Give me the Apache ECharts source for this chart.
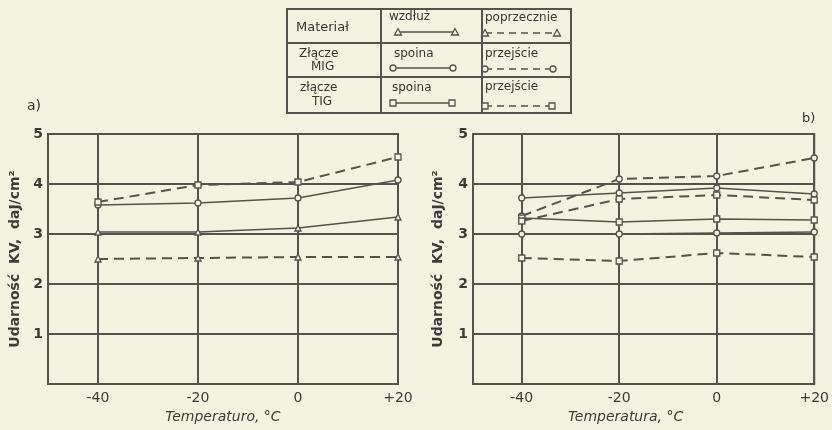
<!DOCTYPE html>
<html><head><meta charset="utf-8">
<script src="https://cdn.jsdelivr.net/npm/echarts@6/dist/echarts.min.js"></script>
<style>html,body{margin:0;padding:0;background:#f4f2e0}#c{width:832px;height:430px}</style>
</head><body><div id="c"></div><script>
// ---- data ----
const temps = [-40, -20, 0, 20];
const xTickLabels = ['-40', '-20', '0', '+20'];
const yTickLabels = ['1', '2', '3', '4', '5'];
// panel a)
const aWzdluz      = [3.04, 3.04, 3.12, 3.34];
const aPoprzecznie = [2.50, 2.52, 2.54, 2.54];
const aSpoina      = [3.58, 3.62, 3.72, 4.08];
const aPrzejscie   = [3.64, 3.98, 4.04, 4.54];
// panel b)
const bWzdluz        = [3.00, 3.00, 3.02, 3.04];
const bPoprzecznie   = [2.52, 2.46, 2.62, 2.54];
const bMigSpoina     = [3.72, 3.82, 3.92, 3.80];
const bMigPrzejscie  = [3.36, 4.10, 4.16, 4.52];
const bTigSpoina     = [3.32, 3.24, 3.30, 3.28];
const bTigPrzejscie  = [3.26, 3.70, 3.78, 3.68];

const INK = '#57524c';
const BG = '#f4f2e0';
const FONT = 'DejaVu Sans';

function ser(name, vals, idx, dashed, symbol) {
  return {
    name: name, type: 'line', xAxisIndex: idx, yAxisIndex: idx,
    data: temps.map((t, i) => [t, vals[i]]),
    symbol: symbol, symbolSize: 6, showSymbol: true,
    lineStyle: { color: INK, width: dashed ? 2 : 1.6, type: dashed ? [10, 6] : 'solid' },
    itemStyle: { color: BG, borderColor: INK, borderWidth: 1.3 },
    emphasis: { disabled: true }, animation: false, z: 5
  };
}

function xAx(idx, name, nameShift) {
  return {
    type: 'value', gridIndex: idx, min: -50, max: 20,
    axisLine: { show: true, lineStyle: { color: INK, width: 2 } },
    axisTick: { show: false, customValues: temps },
    axisLabel: { customValues: temps, formatter: v => xTickLabels[temps.indexOf(v)] || '',
      color: '#3f3a35', fontFamily: FONT, fontSize: 14, margin: 7 },
    splitLine: { show: true, lineStyle: { color: INK, width: 2 } },
    name: name, nameLocation: 'middle', nameGap: 23,
    nameTextStyle: { color: '#3f3a35', fontFamily: FONT, fontSize: 14, fontStyle: 'italic', padding: [0, nameShift, 0, 0] }
  };
}
function yAx(idx, gap) {
  return {
    type: 'value', gridIndex: idx, min: 0, max: 5, interval: 1,
    axisLine: { show: true, lineStyle: { color: INK, width: 2 } },
    axisTick: { show: false },
    axisLabel: { formatter: v => (v === 0 ? '' : yTickLabels[v - 1]), color: '#3f3a35',
      fontFamily: FONT, fontSize: 14, fontWeight: 'bold', margin: 5, padding: [0, 0, 8, 0] },
    splitLine: { show: true, lineStyle: { color: INK, width: 2 } },
    name: 'Udarność  KV,  daJ/cm²', nameLocation: 'middle', nameGap: gap,
    nameTextStyle: { color: '#3f3a35', fontFamily: FONT, fontSize: 14, fontWeight: 'bold' }
  };
}

// legend table drawing helpers
const lg = [];
function ltext(x, y, t, size) {
  lg.push({ type: 'text', left: x, top: y, style: { text: t, fill: '#3a3530', font: (size || 12) + 'px ' + FONT } });
}
function lline(x1, y1, x2, y2, w, dash) {
  lg.push({ type: 'line', shape: { x1: x1, y1: y1, x2: x2, y2: y2 }, style: { stroke: INK, lineWidth: w, lineDash: dash || null } });
}
function lsym(kind, x, y) {
  const st = { fill: BG, stroke: INK, lineWidth: 1.3 };
  if (kind === 'tri') lg.push({ type: 'polygon', shape: { points: [[x, y - 3.5], [x - 3.5, y + 3], [x + 3.5, y + 3]] }, style: st, z: 2 });
  if (kind === 'circ') lg.push({ type: 'circle', shape: { cx: x, cy: y, r: 3 }, style: st, z: 2 });
  if (kind === 'sq') lg.push({ type: 'rect', shape: { x: x - 3, y: y - 3, width: 6, height: 6 }, style: st, z: 2 });
}
lg.push({ type: 'rect', shape: { x: 287, y: 9, width: 284, height: 104 }, style: { fill: BG, stroke: INK, lineWidth: 2 } });
lline(381, 9, 381, 113, 2); lline(482, 9, 482, 113, 2);
lline(287, 43, 571, 43, 2); lline(287, 77, 571, 77, 2);
ltext(296, 21, 'Materiał', 13);
ltext(299, 48, 'Złącze', 12); ltext(311, 61, 'MIG', 12);
ltext(300, 82, 'złącze', 12); ltext(312, 96, 'TIG', 12);
ltext(389, 11, 'wzdłuż', 12); ltext(394, 48, 'spoina', 12); ltext(392, 82, 'spoina', 12);
ltext(485, 12, 'poprzecznie', 12); ltext(485, 48, 'przejście', 12); ltext(485, 81, 'przejście', 12);
lline(398, 32, 455, 32, 1.6); lsym('tri', 398, 32); lsym('tri', 455, 32);
lline(393, 68, 453, 68, 1.6); lsym('circ', 393, 68); lsym('circ', 453, 68);
lline(393, 103, 452, 103, 1.6); lsym('sq', 393, 103); lsym('sq', 452, 103);
lline(485, 33, 557, 33, 1.6, [7, 5]); lsym('tri', 485, 33); lsym('tri', 557, 33);
lline(485, 69, 553, 69, 1.6, [7, 5]); lsym('circ', 485, 69); lsym('circ', 553, 69);
lline(485, 106, 552, 106, 1.6, [7, 5]); lsym('sq', 485, 106); lsym('sq', 552, 106);
ltext(27, 99, 'a)', 14);
ltext(802, 112, 'b)', 13);

const chart = echarts.init(document.getElementById('c'), null, { renderer: 'canvas' });
chart.setOption({
  backgroundColor: BG,
  animation: false,
  grid: [
    { left: 48, right: 434, top: 134, bottom: 46, show: true, borderColor: INK, borderWidth: 2, backgroundColor: 'transparent' },
    { left: 473, right: 13, top: 134, bottom: 46, show: true, borderColor: INK, borderWidth: 2, backgroundColor: 'transparent' }
  ],
  xAxis: [xAx(0, 'Temperaturo, °C', 0), xAx(1, 'Temperatura, °C', 36)],
  yAxis: [yAx(0, 26), yAx(1, 28)],
  series: [
    ser('wzdłuż', aWzdluz, 0, false, 'triangle'),
    ser('poprzecznie', aPoprzecznie, 0, true, 'triangle'),
    ser('spoina MIG', aSpoina, 0, false, 'circle'),
    ser('przejście MIG', aPrzejscie, 0, true, 'rect'),
    ser('wzdłuż', bWzdluz, 1, false, 'circle'),
    ser('poprzecznie', bPoprzecznie, 1, true, 'rect'),
    ser('spoina MIG', bMigSpoina, 1, false, 'circle'),
    ser('przejście MIG', bMigPrzejscie, 1, true, 'circle'),
    ser('spoina TIG', bTigSpoina, 1, false, 'rect'),
    ser('przejście TIG', bTigPrzejscie, 1, true, 'rect')
  ],
  graphic: lg
});
</script></body></html>
